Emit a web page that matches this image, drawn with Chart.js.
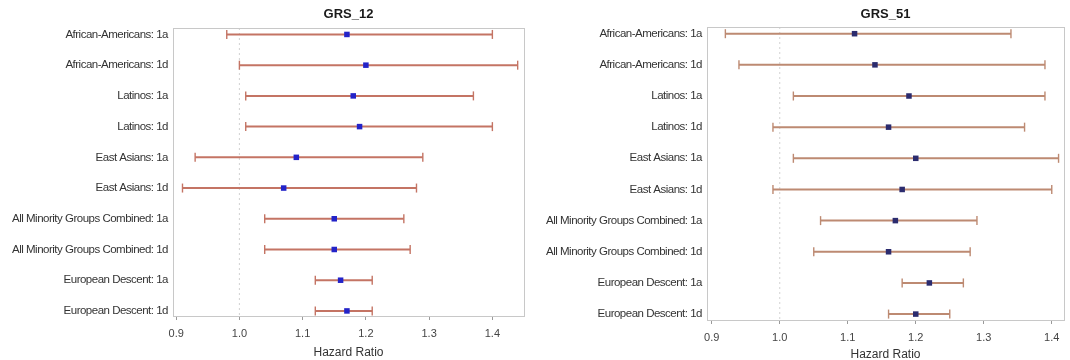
<!DOCTYPE html>
<html>
<head>
<meta charset="utf-8">
<title>GRS hazard ratios</title>
<script src="https://cdn.jsdelivr.net/npm/chart.js@4/dist/chart.umd.min.js"></script>
<style>
  html, body { margin: 0; padding: 0; background: #fff; }
  #wrap { position: relative; width: 1070px; height: 360px; overflow: hidden; }
  .pane { position: absolute; top: 0; width: 535px; height: 360px; }
  #pane12 { left: 0; }
  #pane51 { left: 535px; }
</style>
</head>
<body>
<div id="wrap">
  <div class="pane" id="pane12"><canvas id="chart12"></canvas></div>
  <div class="pane" id="pane51"><canvas id="chart51"></canvas></div>
</div>
<script>
// Rows, top to bottom
const categories = [
  'African-Americans: 1a',
  'African-Americans: 1d',
  'Latinos: 1a',
  'Latinos: 1d',
  'East Asians: 1a',
  'East Asians: 1d',
  'All Minority Groups Combined: 1a',
  'All Minority Groups Combined: 1d',
  'European Descent: 1a',
  'European Descent: 1d'
];

// GRS_12: hazard ratio with 95% CI
const grs12Estimate = [1.17, 1.20, 1.18, 1.19, 1.09, 1.07, 1.15, 1.15, 1.16, 1.17];
const grs12Lower    = [0.98, 1.00, 1.01, 1.01, 0.93, 0.91, 1.04, 1.04, 1.12, 1.12];
const grs12Upper    = [1.40, 1.44, 1.37, 1.40, 1.29, 1.28, 1.26, 1.27, 1.21, 1.21];

// GRS_51: hazard ratio with 95% CI
const grs51Estimate = [1.11, 1.14, 1.19, 1.16, 1.20, 1.18, 1.17, 1.16, 1.22, 1.20];
const grs51Lower    = [0.92, 0.94, 1.02, 0.99, 1.02, 0.99, 1.06, 1.05, 1.18, 1.16];
const grs51Upper    = [1.34, 1.39, 1.39, 1.36, 1.41, 1.40, 1.29, 1.28, 1.27, 1.25];

const xTickValues = [0.9, 1.0, 1.1, 1.2, 1.3, 1.4];
const referenceHR = 1.0;

const labelFont = { family: '"Liberation Sans", Arial, sans-serif', size: 11.5 };
const tickFont  = { family: '"Liberation Sans", Arial, sans-serif', size: 11 };
const axisTitleFont = { family: '"Liberation Sans", Arial, sans-serif', size: 12 };

// Grey box around the plotting area, centred bold panel title,
// and slightly tightened letter spacing for the row labels (drawn after the datasets).
const framePlugin = {
  id: 'panelFrame',
  beforeDraw(chart) {
    chart.ctx.letterSpacing = '0px';
  },
  afterDatasetsDraw(chart, args, opts) {
    chart.ctx.letterSpacing = opts.labelSpacing;
  },
  afterDraw(chart, args, opts) {
    const { ctx, chartArea: a } = chart;
    ctx.letterSpacing = '0px';
    ctx.save();
    ctx.strokeStyle = '#c8c8c8';
    ctx.lineWidth = 1;
    ctx.strokeRect(Math.round(a.left) + 0.5, Math.round(a.top) + 0.5,
                   Math.round(a.right - a.left), Math.round(a.bottom - a.top));
    ctx.fillStyle = '#1a1a1a';
    ctx.font = 'bold 13px "Liberation Sans", Arial, sans-serif';
    ctx.textAlign = 'center';
    ctx.textBaseline = 'middle';
    ctx.fillText(opts.text, (a.left + a.right) / 2, opts.titleY);
    ctx.restore();
  }
};

function buildForest(canvasId, cfg) {
  const { estimate, lower, upper, xMin, xMax, yMin, yMax, lineColor, markerColor } = cfg;

  const datasets = [];
  // dotted reference line at HR = 1
  datasets.push({
    data: [{ x: referenceHR, y: yMin }, { x: referenceHR, y: yMax }],
    showLine: true,
    borderColor: '#d2d2d2',
    borderWidth: 1,
    borderDash: [2, 3],
    pointRadius: 0,
    order: 3
  });
  // confidence intervals with end caps
  categories.forEach((_, i) => {
    datasets.push({
      data: [{ x: lower[i], y: i }, { x: upper[i], y: i }],
      showLine: true,
      borderColor: lineColor,
      borderWidth: 2,
      pointStyle: 'line',
      rotation: 90,
      pointRadius: 4.5,
      pointBorderColor: lineColor,
      pointBorderWidth: 1.4,
      order: 2
    });
  });
  // point estimates, on top
  datasets.push({
    data: estimate.map((v, i) => ({ x: v, y: i })),
    pointStyle: 'rect',
    pointRadius: 3.9,
    backgroundColor: markerColor,
    borderColor: markerColor,
    borderWidth: 0,
    order: 1
  });

  return new Chart(document.getElementById(canvasId), {
    type: 'scatter',
    data: { datasets },
    plugins: [framePlugin],
    options: {
      responsive: true,
      maintainAspectRatio: false,
      animation: false,
      events: [],
      layout: { padding: cfg.padding },
      plugins: {
        legend: { display: false },
        tooltip: { enabled: false },
        panelFrame: { text: cfg.title, titleY: cfg.titleY, labelSpacing: '-0.5px' }
      },
      scales: {
        x: {
          type: 'linear',
          min: xMin,
          max: xMax,
          afterBuildTicks: s => { s.ticks = xTickValues.map(v => ({ value: v })); },
          afterFit: s => { s.height = cfg.xAxisHeight; },
          ticks: {
            callback: v => Number(v).toFixed(1),
            font: tickFont,
            color: '#444',
            padding: cfg.xTickPadding,
            maxRotation: 0,
            autoSkip: false
          },
          grid: { display: true, drawOnChartArea: false, drawTicks: true, tickLength: 4, tickColor: '#9a9a9a', tickWidth: 1 },
          border: { display: false },
          title: {
            display: true,
            text: 'Hazard Ratio',
            font: axisTitleFont,
            color: '#333',
            padding: { top: 0, bottom: cfg.xTitleBottom }
          }
        },
        y: {
          type: 'linear',
          reverse: true,
          min: yMin,
          max: yMax,
          afterBuildTicks: s => { s.ticks = categories.map((_, i) => ({ value: i })); },
          afterFit: s => { s.width = cfg.yAxisWidth; },
          ticks: {
            callback: v => categories[v],
            font: labelFont,
            color: '#333',
            padding: 5,
            autoSkip: false,
            z: 1
          },
          grid: { display: false, drawTicks: false },
          border: { display: false }
        }
      }
    }
  });
}

buildForest('chart12', {
  title: 'GRS_12', titleY: 14,
  estimate: grs12Estimate, lower: grs12Lower, upper: grs12Upper,
  xMin: 0.895, xMax: 1.450, yMin: -0.21, yMax: 9.165,
  lineColor: '#c47464', markerColor: '#2323c8',
  padding: { top: 28, right: 11, bottom: 0, left: 0 },
  yAxisWidth: 173, xAxisHeight: 44, xTickPadding: 7, xTitleBottom: 0
});

buildForest('chart51', {
  title: 'GRS_51', titleY: 14,
  estimate: grs51Estimate, lower: grs51Lower, upper: grs51Upper,
  xMin: 0.893, xMax: 1.418, yMin: -0.215, yMax: 9.19,
  lineColor: '#bd8a72', markerColor: '#2b2b6e',
  padding: { top: 27, right: 6, bottom: 0, left: 0 },
  yAxisWidth: 172, xAxisHeight: 40, xTickPadding: 7, xTitleBottom: -2
});
</script>
</body>
</html>
